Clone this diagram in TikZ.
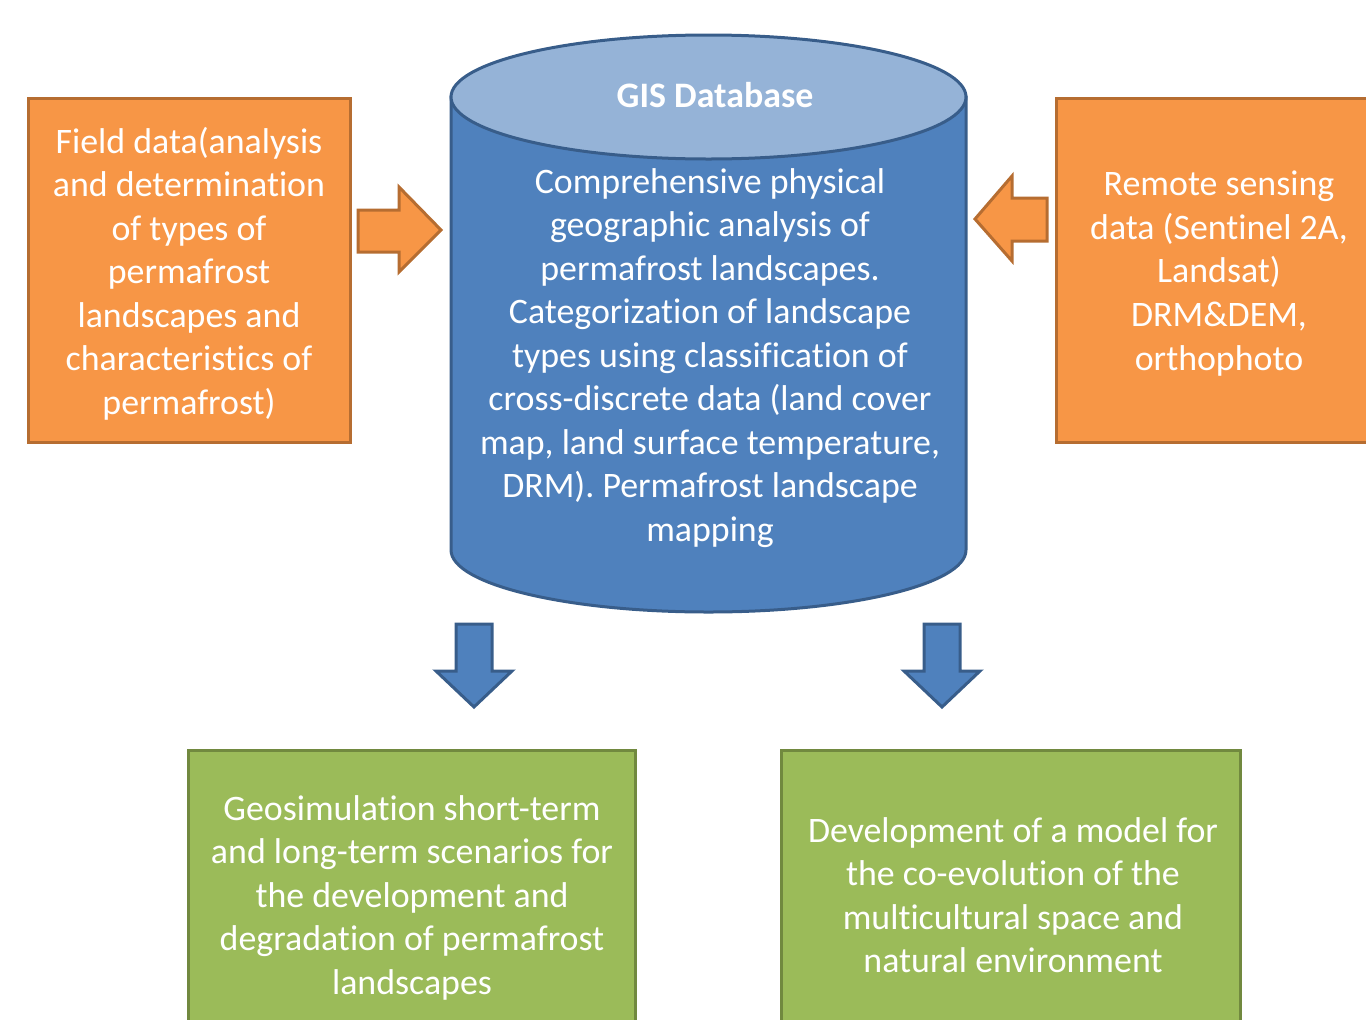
\documentclass[tikz,border=0pt]{standalone}
\usepackage{fontspec}
\setmainfont{Carlito}[Ligatures={NoCommon}]
\definecolor{ofill}{HTML}{F79646}
\definecolor{oline}{HTML}{B66D31}
\definecolor{bfill}{HTML}{4F81BD}
\definecolor{bline}{HTML}{385D8A}
\definecolor{btop}{HTML}{95B3D7}
\definecolor{gfill}{HTML}{9BBB59}
\definecolor{gline}{HTML}{71893F}
\tikzset{
  txt/.style={text=white, align=center, font=\fontsize{36}{43.7}\selectfont, inner sep=0pt},
  obox/.style={fill=ofill, draw=oline, line width=3bp},
  gbox/.style={fill=gfill, draw=gline, line width=3bp},
  oarrow/.style={fill=ofill, draw=oline, line width=3bp, line join=miter},
  barrow/.style={fill=bfill, draw=bline, line width=3bp, line join=miter},
}
\begin{document}
\begin{tikzpicture}[x=1bp, y=-1bp]
\useasboundingbox (0,0) rectangle (1366,1019);
% boxes
\draw[obox] (28,98) rectangle (350,442);
\node[txt] (field) at (189,273.5) {Field data(analysis\\and determination\\of types of\\permafrost\\landscapes and\\characteristics of\\permafrost)};
\draw[obox] (1056,98) rectangle (1384,442);
\node[txt] (remote) at (1219,273.5) {Remote sensing\\data (Sentinel 2A,\\Landsat)\\DRM\&DEM,\\orthophoto};
% cylinder
\draw[fill=bfill, draw=bline, line width=3bp] (451,97) -- (451,550) arc[start angle=180, end angle=0, x radius=257.5, y radius=62] -- (966,97) -- cycle;
\draw[fill=btop, draw=bline, line width=3bp] (708.5,97) ellipse[x radius=257.5, y radius=62];
\node[txt, font=\fontsize{36}{43.7}\selectfont\bfseries] (gis) at (715,95) {GIS Database};
\node[txt] (db) at (710,358) {Comprehensive physical\\geographic analysis of\\permafrost landscapes.\\Categorization of landscape\\types using classification of\\cross-discrete data (land cover\\map, land surface temperature,\\DRM). Permafrost landscape\\mapping};
% side arrows
\draw[oarrow] (358,210) -- (399,210) -- (399,187) -- (441,230) -- (399,272) -- (399,252) -- (358,252) -- cycle;
\draw[oarrow] (1047,198) -- (1012,198) -- (1012,176) -- (975,219) -- (1012,261) -- (1012,241) -- (1047,241) -- cycle;
% down arrows
\draw[barrow] (456,624) -- (492,624) -- (492,671) -- (512,671) -- (474,707) -- (436,671) -- (456,671) -- cycle;
\draw[barrow] (924,624) -- (960,624) -- (960,671) -- (980,671) -- (942,707) -- (904,671) -- (924,671) -- cycle;
% green boxes
\draw[gbox] (188,750) rectangle (635,1040);
\node[txt] (geo) at (412,897.5) {Geosimulation short-term\\and long-term scenarios for\\the development and\\degradation of permafrost\\landscapes};
\draw[gbox] (781,750) rectangle (1240,1040);
\node[txt] (dev) at (1013,895) {Development of a model for\\the co-evolution of the\\multicultural space and\\natural environment};
\end{tikzpicture}
\end{document}
